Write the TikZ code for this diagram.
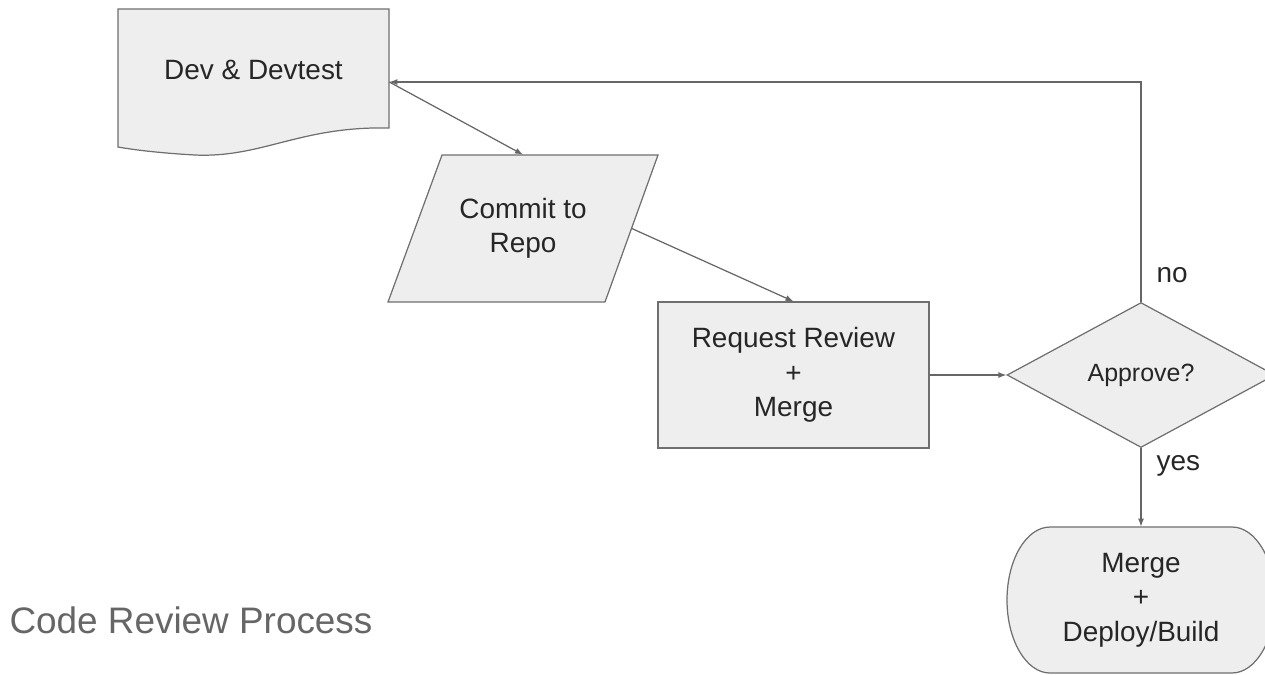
\documentclass[tikz,border=0pt]{standalone}
\usepackage{fontspec}
\setmainfont{Liberation Sans}
\usetikzlibrary{shapes.geometric,arrows.meta}
\definecolor{boxfill}{HTML}{EEEEEE}
\definecolor{boxline}{HTML}{6F6F6F}
\definecolor{arrowline}{HTML}{666666}
\definecolor{titlegray}{HTML}{666666}

\begin{document}
\begin{tikzpicture}[x=0.02cm,y=-0.02cm]
		\tikzstyle{every node}+=[inner sep=0pt, text=black!85, font=\fontsize{15.9}{19.6}\selectfont]
		\tikzstyle{shape line}=[draw=boxline, fill=boxfill, line width=0.7pt]
		\tikzstyle{flow}=[draw=arrowline, line width=0.7pt, -{Latex[length=0.16cm,width=0.12cm]}]
		\useasboundingbox (0,0) rectangle (1265,674);
		% document shape
		\draw [shape line] (118,9) -- (389,9) -- (389,128) .. controls (300,126) and (262,158) .. (195,155) .. controls (160,153) and (135,150) .. (118,147) -- cycle;
		\node (dev) at (253.5,82) [minimum width=5.42cm, minimum height=2.92cm] {};
		\node (devtext) at (253.5,70) {Dev \& Devtest};
		% input shape
		\draw [shape line] (442,155) -- (658,155) -- (605,302) -- (388,302) -- cycle;
		\node (commit) at (523,228.5) [minimum width=4.34cm, minimum height=2.94cm, align=center] {Commit to\\Repo};
		\node (request) at (793.5,375) [shape line, minimum width=5.42cm, minimum height=2.92cm, align=center] {Request Review\\+\\Merge};
		\node (approve) at (1141,375) [diamond, shape line, minimum width=5.36cm, minimum height=2.9cm, font=\fontsize{14.2}{17}\selectfont] {Approve?};
		% terminator shape
		\draw [shape line] (1050,527) -- (1232,527) arc [start angle=90, end angle=-90, x radius=0.86cm, y radius=1.46cm] -- (1050,673) arc [start angle=270, end angle=90, x radius=0.86cm, y radius=1.46cm] -- cycle;
		\node (final) at (1141,600) [minimum width=5.36cm, minimum height=2.92cm, align=center] {Merge\\+\\Deploy/Build};
		\node (title) at (191,620) [text=titlegray, font=\fontsize{21}{25}\selectfont] {Code Review Process};
		\draw [flow] (dev.east) -- (commit.north);
		\draw [flow] (commit.east) -- (request.north);
		\draw [flow] (request.east) -- (approve.west);
		\draw [flow] (approve.north) |- node [pos=0.06, right=0.3cm] {no} (dev.east);
		\draw [flow] (approve.south) -- node [pos=0.22, right=0.3cm] {yes} (final.north);
\end{tikzpicture}
\end{document}
